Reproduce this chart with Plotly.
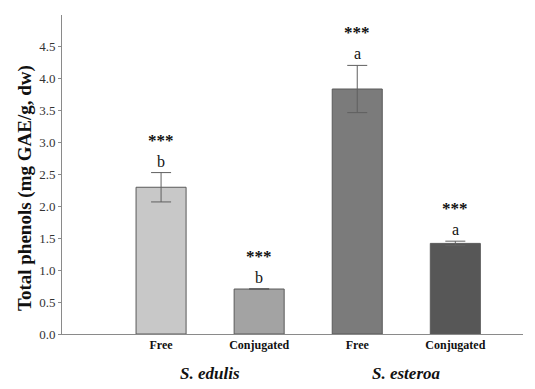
import plotly.graph_objects as go

# data
categories = ["Free", "Conjugated", "Free", "Conjugated"]
species = ["S. edulis", "S. esteroa"]
phenols = [2.30, 0.705, 3.84, 1.42]
phenols_err = [0.23, 0.006, 0.37, 0.035]
letters = ["b", "b", "a", "a"]
stars = ["***", "***", "***", "***"]
bar_colors = ["#c8c8c8", "#a3a3a3", "#7b7b7b", "#575757"]

xpos = [0, 1, 2, 3]
serif = "Liberation Serif"

fig = go.Figure()
fig.add_trace(go.Bar(
    x=xpos, y=phenols, width=0.51,
    marker=dict(color=bar_colors, line=dict(color="#5a5a5a", width=1)),
    error_y=dict(type="data", array=phenols_err, visible=True,
                 color="#606060", thickness=1, width=10),
))

for i in range(len(xpos)):
    top = phenols[i] + phenols_err[i]
    fig.add_annotation(x=xpos[i], y=top, text=letters[i], showarrow=False,
                       yanchor="bottom", yshift=1,
                       font=dict(family=serif, size=16, color="#111"))
    fig.add_annotation(x=xpos[i], y=top, text="<b>" + stars[i] + "</b>", showarrow=False,
                       yanchor="bottom", yshift=21,
                       font=dict(family=serif, size=17, color="#111"))

for j, sp in enumerate(species):
    fig.add_annotation(x=0.5 + 2 * j, y=-0.125, yref="paper", text="<b><i>" + sp + "</i></b>",
                       showarrow=False, yanchor="middle",
                       font=dict(family=serif, size=17, color="#111"))

fig.add_annotation(x=-0.08, xref="paper", y=0.458, yref="paper",
                   text="<b>Total phenols (mg GAE/g, dw)</b>", textangle=-90,
                   showarrow=False, xanchor="center", yanchor="middle",
                   font=dict(family=serif, size=19, color="#111"))

# page has an 8px body margin, so the figure is a bit smaller and shifted
fig.update_layout(
    width=527, height=381,
    margin=dict(l=54, r=12, t=7, b=55),
    plot_bgcolor="white", paper_bgcolor="white",
    showlegend=False,
    xaxis=dict(range=[-1.01, 3.69], tickvals=xpos, ticktext=["<b>" + c + "</b>" for c in categories],
               showline=True, linecolor="#8a8a8a", linewidth=1, ticks="",
               tickfont=dict(family=serif, size=12, color="#111"), showgrid=False, zeroline=False),
    yaxis=dict(range=[0, 5.0], tickvals=[0, 0.5, 1, 1.5, 2, 2.5, 3, 3.5, 4, 4.5],
               tickformat=".1f", showline=True, linecolor="#8a8a8a", linewidth=1,
               ticks="outside", ticklen=3, tickcolor="#8a8a8a",
               tickfont=dict(family=serif, size=13, color="#333"), showgrid=False, zeroline=False),
)

fig.write_html("out.html")
